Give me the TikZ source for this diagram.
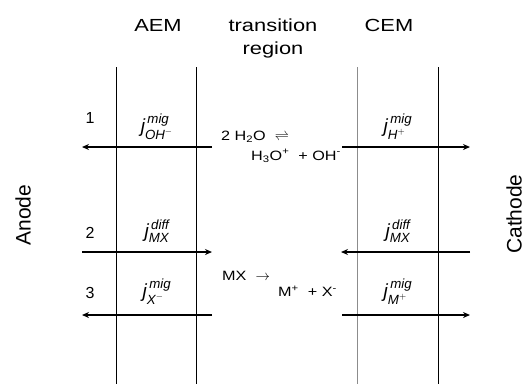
\documentclass[tikz,border=0pt]{standalone}
\usepackage{fontspec}
\usepackage{amsmath}
\setmainfont{Liberation Sans}
\newfontfamily\widefont[FakeStretch=1.25]{Liberation Sans}
\newfontfamily\eqfont[FakeStretch=1.2]{Liberation Sans}
\usetikzlibrary{arrows.meta}
\newcommand{\jflux}[2]{$\textit{j}^{\,\textit{#1}}_{\textit{#2}}$}
\begin{document}
\begin{tikzpicture}[x=1pt,y=-1pt,
  memline/.style={line width=0.9pt},
  grayline/.style={line width=0.9pt,draw=black!45},
  flux/.style={line width=1.4pt,-{Stealth[length=7pt,width=6pt]}},
  head/.style={font=\fontsize{17.5}{20}\widefont, inner sep=0},
  num/.style={font=\fontsize{16}{19}\selectfont, inner sep=0},
  eq/.style={font=\fontsize{13.5}{16}\eqfont, inner sep=0, anchor=base west},
  jlab/.style={font=\fontsize{19}{22}\selectfont, inner sep=0},
  side/.style={font=\fontsize{21}{24}\selectfont, rotate=90, inner sep=0}]
\useasboundingbox (0,0) rectangle (529,384);
% membrane boundaries
\coordinate (a1t) at (116,67);  \coordinate (a1b) at (116,384);
\coordinate (a2t) at (196,67);  \coordinate (a2b) at (196,384);
\coordinate (c1t) at (357,67);  \coordinate (c1b) at (357,384);
\coordinate (c2t) at (438,67);  \coordinate (c2b) at (438,384);
\draw[memline] (a1t) -- (a1b);
\draw[memline] (a2t) -- (a2b);
\draw[grayline] (c1t) -- (c1b);
\draw[memline] (c2t) -- (c2b);
% headings
\node[head] (aem) at (158,25) {AEM};
\node[head] (tr) at (273,25) {transition};
\node[head] (rg) at (273,50) {region};
\node[head] (cem) at (389,25) {CEM};
\node[side] (anode) at (23,215) {Anode};
\node[side] (cathode) at (514,214) {Cathode};
% arrow end points
\coordinate (r1l) at (82,147);  \coordinate (r1m) at (212,147);
\coordinate (r1n) at (342,147); \coordinate (r1r) at (470,147);
\coordinate (r2l) at (82,252);  \coordinate (r2m) at (212,252);
\coordinate (r2n) at (341,252); \coordinate (r2r) at (470,252);
\coordinate (r3l) at (82,315);  \coordinate (r3m) at (212,315);
\coordinate (r3n) at (342,315); \coordinate (r3r) at (470,315);
\draw[flux] (r1m) -- (r1l);
\draw[flux] (r1n) -- (r1r);
\draw[flux] (r2l) -- (r2m);
\draw[flux] (r2r) -- (r2n);
\draw[flux] (r3m) -- (r3l);
\draw[flux] (r3n) -- (r3r);
% numbers
\node[num] (n1) at (90,117.5) {1};
\node[num] (n2) at (90,232.5) {2};
\node[num] (n3) at (90,293) {3};
% flux labels
\node[jlab] (j1) at (157,127) {\jflux{mig}{OH$^{-}$}};
\node[jlab] (j2) at (157,231) {\jflux{diff}{MX}};
\node[jlab] (j3) at (157,292) {\jflux{mig}{X$^{-}$}};
\node[jlab] (j4) at (398,127) {\jflux{mig}{H$^{+}$}};
\node[jlab] (j5) at (398,231) {\jflux{diff}{MX}};
\node[jlab] (j6) at (398,292) {\jflux{mig}{M$^{+}$}};
% reactions
\node[eq] (e1) at (221,140.5) {2 H\textsubscript{2}O \ $\rightleftharpoons$};
\node[eq] (e2) at (251,160) {H\textsubscript{3}O\textsuperscript{+} \ + OH\textsuperscript{-}};
\node[eq] (e3) at (222,280.5) {MX \ $\rightarrow$};
\node[eq] (e4) at (278,296.5) {M\textsuperscript{+} \ + X\textsuperscript{-}};
\end{tikzpicture}
\end{document}
